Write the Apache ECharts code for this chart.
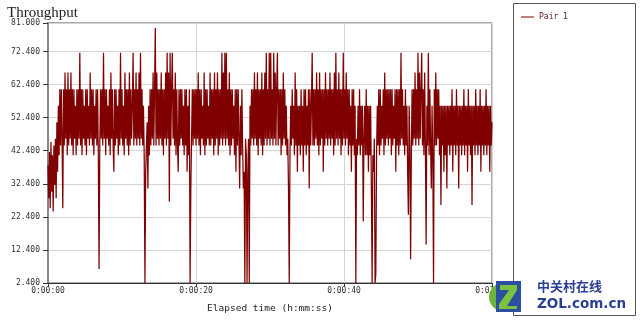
<!DOCTYPE html>
<html>
<head>
<meta charset="utf-8">
<script src="https://cdn.jsdelivr.net/npm/echarts@6/dist/echarts.min.js"></script>
<style>html,body{margin:0;padding:0;background:#fff}#c{width:640px;height:326px}</style>
</head>
<body>
<div id="c"></div>
<script>
// Throughput samples (Mbps), one every 0.1 s
const throughputA = [
38,28,42,25,45,30,41,24,44,32,46,28,51,36,56,41,61,44,61,46,
25,61,44,66,46,61,41,66,44,61,46,66,44,61,41,61,46,56,41,61,
44,61,46,72,44,61,41,61,46,56,44,61,41,61,46,56,44,66,46,61,
44,61,41,56,46,61,44,61,41,6.6,44,61,46,61,44,72,46,61,41,61,
46,56,44,61,41,66,46,61,44,36,61,44,61,46,56,41,61,44,72,46,
61,44,56,41,66,46,61,44,61,41,66,44,61,46,56,72,44,61,46,66,
44,61,46,66,44,72,46,61,44,56,41,2.4,36,44,51,31,56,41,61,44,
61,46,66,44,61,79.5,44,66,46,61,44,61,46,66,44,61,41,61,46,66,
44,72,46,66,27,72,44,61,72,46,61,44,66,41,61,44,36,61,44,61,
46,61,44,56,41,61,44,61,36,56,41,61,2.4,31,46,61,44,61,46,61
];
const throughputB = [
44,61,46,66,44,61,41,61,46,56,44,66,41,61,44,61,46,56,44,66,
44,61,46,61,41,66,44,61,46,66,41,61,44,61,46,72,44,66,46,72,
44,72,46,61,44,66,41,61,44,61,46,56,41,61,36,61,44,61,46,31,
56,41,61,44,31,36,2.4,46,41,2.4,36,46,2.4,56,44,61,46,61,44,66,
46,61,44,66,41,61,46,61,44,66,41,61,44,66,46,72,44,61,46,72,
44,72,46,61,44,72,46,66,44,61,72,44,61,46,61,41,61,44,66,46,
61,44,56,41,46,31,2.4,41,56,44,61,46,56,41,66,44,61,36,56,44,
56,41,61,44,56,36,61,44,61,41,56,44,61,31,61,44,56,72,44,61,
44,61,46,66,44,61,41,66,44,61,46,61,36,61,44,66,46,61,44,61,
46,66,44,61,46,61,41,66,44,72,46,61,44,66,46,61,41,61,44,72
];
const throughputC = [
46,61,44,66,46,61,41,61,44,56,36,61,44,61,41,56,2.4,46,41,56,
44,61,41,56,44,56,21,46,56,41,61,41,56,36,56,41,56,31,2.4,41,
36,46,2.4,5,41,56,44,61,41,61,44,56,46,61,41,66,44,61,46,61,
44,61,46,61,41,61,44,56,46,61,36,61,44,61,41,61,44,72,46,61,
44,56,41,61,44,56,36,23,56,44,9.6,41,61,44,61,46,66,44,61,46,
72,44,66,46,61,72,44,61,41,66,44,14,56,44,72,41,61,44,31,56,
41,2.4,61,44,66,44,61,46,61,41,56,26,56,44,56,36,56,41,56,31,
56,44,56,41,56,44,61,36,56,44,56,41,61,44,56,31,56,44,56,41,
56,44,61,41,56,44,56,36,61,44,56,41,56,26,56,44,56,41,61,44,
56,41,56,44,61,36,56,44,56,41,56,44,61,41,56,44,56,36,56,44,
51
];
const sampleStep = 0.1; // seconds between samples
const seriesName = 'Pair 1';
const yTicks = [2.4, 12.4, 22.4, 32.4, 42.4, 52.4, 62.4, 72.4, 81.0];
const xTickSeconds = [0, 20, 40, 60];

const values = throughputA.concat(throughputB, throughputC);
const points = values.map((v, i) => [Math.round(i * sampleStep * 10) / 10, v]);

function fmtTime(s) {
  const m = Math.floor(s / 60), sec = Math.round(s % 60);
  return '0:' + String(m).padStart(2, '0') + ':' + String(sec).padStart(2, '0');
}

const mono = 'DejaVu Sans Mono';
const chart = echarts.init(document.getElementById('c'), null, {renderer: 'canvas'});
chart.setOption({
  animation: false,
  backgroundColor: '#fff',
  title: {
    text: 'Throughput', left: 2, top: 1,
    textStyle: {fontFamily: 'Liberation Serif', fontSize: 15, fontWeight: 'normal', color: '#222'}
  },
  legend: {
    data: [seriesName], left: 516, top: 8, icon: 'rect', itemWidth: 13, itemHeight: 1,
    itemGap: 4,
    textStyle: {fontFamily: mono, fontSize: 8, color: '#5a2020'}
  },
  grid: {left: 48, right: 148, top: 23, bottom: 43, show: true, borderColor: '#555', borderWidth: 1,
    containLabel: false, outerBoundsMode: 'none'},
  xAxis: {
    type: 'value', min: xTickSeconds[0], max: xTickSeconds[xTickSeconds.length - 1], interval: 20,
    axisLine: {lineStyle: {color: '#333', width: 1}},
    axisTick: {show: true, length: 4, lineStyle: {color: '#333'}},
    axisLabel: {fontFamily: mono, fontSize: 8, color: '#333', margin: 4, formatter: fmtTime},
    splitLine: {show: true, lineStyle: {color: '#d4d4d4', width: 1}},
    name: 'Elapsed time (h:mm:ss)', nameLocation: 'middle', nameGap: 21,
    nameTextStyle: {fontFamily: mono, fontSize: 9.5, color: '#222'}
  },
  yAxis: {
    type: 'value', min: yTicks[0], max: yTicks[yTicks.length - 1], interval: 10,
    axisLine: {show: true, lineStyle: {color: '#888', width: 2}},
    axisTick: {show: true, length: 5, lineStyle: {color: '#333'}},
    axisLabel: {fontFamily: mono, fontSize: 8, color: '#333', margin: 8,
      formatter: v => v.toFixed(3), showMaxLabel: true, showMinLabel: true},
    splitLine: {show: true, lineStyle: {color: '#d4d4d4', width: 1}},
    name: 'Mbps', nameLocation: 'middle', nameGap: 40, nameRotate: 90,
    nameTextStyle: {fontFamily: mono, fontSize: 8.5, color: '#222'}
  },
  series: [{
    name: seriesName, type: 'line', data: points, showSymbol: false, symbol: 'none',
    lineStyle: {color: '#800000', width: 1.25}, itemStyle: {color: '#800000'},
    z: 3
  }],
  graphic: [
    {type: 'rect', shape: {x: 513.5, y: 3.5, width: 122, height: 312},
     style: {fill: 'none', stroke: '#555', lineWidth: 1}, z: 1},
    {type: 'circle', shape: {cx: 503, cy: 297, r: 14}, style: {fill: '#6cb33a'}, z: 20},
    {type: 'polygon', shape: {points: [[496,281],[521,281],[521,312],[496,312]]},
     style: {fill: '#2c4fa0'}, z: 21},
    {type: 'polygon', shape: {points: [[500,285],[517,285],[517,290],[507,306],[517,306],[517,309],[499,309],[499,304],[509,290],[500,290]]},
     style: {fill: '#7cc242'}, z: 22},
    {type: 'text', left: 537, top: 280, style: {text: '中关村在线', font: 'bold 13px "Noto Sans CJK SC"', fill: '#2b3f95'}, z: 22},
    {type: 'text', left: 537, top: 297, style: {text: 'ZOL.com.cn', font: 'bold 13.5px "DejaVu Sans"', fill: '#2b3f95'}, z: 22}
  ]
});
</script>
</body>
</html>
